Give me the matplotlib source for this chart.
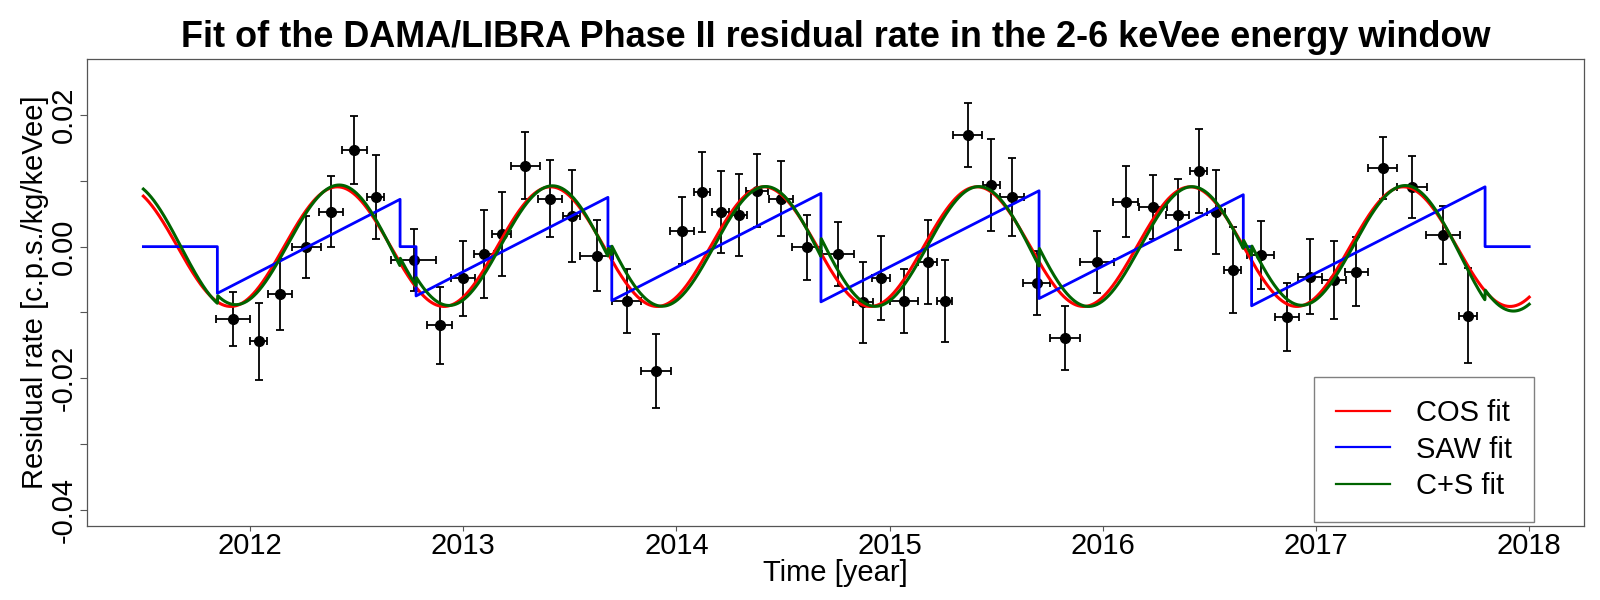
import numpy as np
import matplotlib
matplotlib.use("Agg")
import matplotlib.pyplot as plt
from matplotlib.lines import Line2D

plt.rcParams['font.family'] = ['Liberation Sans', 'DejaVu Sans']

# ---------------- data ----------------
t_data = [2011.92, 2012.04, 2012.142, 2012.264, 2012.381, 2012.489, 2012.59, 2012.768, 2012.89, 2013.0,
          2013.096, 2013.18, 2013.29, 2013.407, 2013.51, 2013.626, 2013.767, 2013.903,
          2014.026, 2014.122, 2014.208, 2014.292, 2014.378, 2014.492,
          2014.611, 2014.758, 2014.875, 2014.961, 2015.067, 2015.178, 2015.258,
          2015.366, 2015.477, 2015.574, 2015.69, 2015.823, 2015.973, 2016.107,
          2016.234, 2016.351, 2016.451, 2016.531, 2016.609, 2016.74, 2016.864, 2016.97,
          2017.083, 2017.189, 2017.313, 2017.45, 2017.594, 2017.713]
rate = [-0.01096, -0.0144, -0.00725, -0.0001, 0.00533, 0.01472, 0.00756, -0.00207, -0.01197, -0.00482,
        -0.00111, 0.00189, 0.01228, 0.0073, 0.00462, -0.00136, -0.00826, -0.01892,
        0.00239, 0.00828, 0.00528, 0.00482, 0.00853, 0.00726,
        -0.0001, -0.00111, -0.00847, -0.00482, -0.00826, -0.00233, -0.00826,
        0.01695, 0.00934, 0.00752, -0.00557, -0.01394, -0.00238, 0.0068,
        0.00604, 0.00482, 0.01152, 0.00528, -0.00355, -0.00131, -0.01075, -0.00457,
        -0.00507, -0.0038, 0.01198, 0.00904, 0.00183, -0.0105]
rate_err = [0.0041, 0.0059, 0.0054, 0.0047, 0.00545, 0.0052, 0.0064, 0.0047, 0.0059, 0.0057,
            0.0067, 0.0064, 0.0051, 0.0059, 0.007, 0.0054, 0.0049, 0.0057,
            0.0051, 0.0061, 0.0062, 0.0062, 0.0056, 0.0057,
            0.0049, 0.0049, 0.0062, 0.0064, 0.0049, 0.0064, 0.0062,
            0.0049, 0.007, 0.0059, 0.0049, 0.0049, 0.0047, 0.0054,
            0.0049, 0.0054, 0.0064, 0.0064, 0.0066, 0.0052, 0.0052, 0.0057,
            0.0059, 0.0052, 0.0047, 0.0047, 0.0044, 0.0072]
time_err = [0.078, 0.04, 0.056, 0.069, 0.057, 0.058, 0.04, 0.106, 0.059, 0.056,
            0.047, 0.043, 0.068, 0.058, 0.04, 0.076, 0.067, 0.07,
            0.057, 0.0375, 0.041, 0.04, 0.053, 0.056,
            0.067, 0.077, 0.045, 0.043, 0.066, 0.044, 0.037,
            0.068, 0.039, 0.055, 0.063, 0.07, 0.08, 0.059,
            0.066, 0.055, 0.04, 0.04, 0.04, 0.065, 0.056, 0.056,
            0.056, 0.055, 0.067, 0.071, 0.08, 0.04]

# SAW fit: vertices of the piecewise-linear sawtooth
saw_t = [2011.5, 2011.847, 2011.847, 2012.704, 2012.704, 2012.779, 2012.779, 2013.679, 2013.679,
         2013.697, 2013.697, 2014.678, 2014.678, 2015.701, 2015.701, 2016.659, 2016.659,
         2016.698, 2016.698, 2017.793, 2017.793, 2018.0]
saw_v = [0.0, 0.0, -0.0071, 0.0072, 0.0, 0.0, -0.0075, 0.0075, 0.0,
         0.0, -0.0082, 0.0081, -0.0084, 0.0085, -0.0079, 0.0079, 0.0,
         0.0, -0.0090, 0.0091, 0.0, 0.0]

# COS fit parameters
cos_amp = 0.0091
cos_peak = 0.41      # phase of the maximum (fraction of year)
cos_period = 1.0
# C+S fit parameters
cs_amp = 0.0098
cs_peak = 0.426
cs_saw_coef = -0.17
fit_start, fit_end = 2011.5, 2018.0

xticks = [2012, 2013, 2014, 2015, 2016, 2017, 2018]
yticks = [-0.04, -0.03, -0.02, -0.01, 0.0, 0.01, 0.02]
ytick_labels = ['-0.04', '', '-0.02', '', '0.00', '', '0.02']

# ---------------- figure ----------------
W, H = 1600, 600
fig = plt.figure(figsize=(16, 6), dpi=100)
L, R, T, B = 87.3, 1584.0, 59.3, 526.0
ax = fig.add_axes([L / W, 1 - B / H, (R - L) / W, (B - T) / H])

ax.errorbar(t_data, rate, yerr=rate_err, xerr=time_err, fmt='o', color='black',
            ms=7, elinewidth=1.3, capsize=2.7, capthick=1.3, zorder=2)

tt = np.linspace(fit_start, fit_end, 3000)
cos_curve = cos_amp * np.cos(2 * np.pi * (tt - cos_peak) / cos_period)
saw_curve = np.interp(tt, saw_t, saw_v)
cs_curve = cs_amp * np.cos(2 * np.pi * (tt - cs_peak) / cos_period) + cs_saw_coef * saw_curve

ax.plot(tt, cos_curve, color='#FF0000', lw=2.2, zorder=3)
ax.plot(saw_t, saw_v, color='#0000FF', lw=2.0, zorder=3)
ax.plot(tt, cs_curve, color='#006400', lw=2.2, zorder=3)

ax.set_xlim(2011.237, 2018.257)
ax.set_ylim(-0.0425, 0.0285)

ax.set_xticks(xticks)
ax.set_xticklabels([str(x) for x in xticks])
ax.set_yticks(yticks)
ax.set_yticklabels(ytick_labels, rotation=90, va='center', ha='right')

for s in ax.spines.values():
    s.set_color('#555555')
    s.set_linewidth(0.9)
ax.tick_params(axis='x', length=3.8, width=0.8, color='#555555', pad=0.6, labelsize=21)
ax.tick_params(axis='y', length=5.0, width=0.8, color='#555555', pad=2.0, labelsize=21)

ax.set_xlabel('Time [year]', fontsize=21)
ax.xaxis.set_label_coords(0.5, -(559 - B) / (B - T))
ax.set_ylabel('Residual rate [c.p.s./kg/keVee]', fontsize=21)
ax.yaxis.set_label_coords(-(L - 49) / (R - L), 0.5)

fig.text((L + R) / 2 / W, 1 - 47 / H,
         'Fit of the DAMA/LIBRA Phase II residual rate in the 2-6 keVee energy window',
         ha='center', va='baseline', fontsize=25.9, fontweight='bold')

handles = [Line2D([], [], color='#FF0000', lw=1.6),
           Line2D([], [], color='#0000FF', lw=1.6),
           Line2D([], [], color='#006400', lw=1.6)]
leg = ax.legend(handles, ['COS fit', 'SAW fit', 'C+S fit'], loc='lower right',
                bbox_to_anchor=((1534 - L) / (R - L), (B - 522) / (B - T)),
                borderaxespad=0, fontsize=21, frameon=True, fancybox=False,
                handlelength=1.85, handletextpad=0.9, labelspacing=0.29, borderpad=0.75)
leg.get_frame().set_edgecolor('#808080')
leg.get_frame().set_linewidth(1.0)
leg.get_frame().set_alpha(1)

fig.savefig('out.png', dpi=100)
